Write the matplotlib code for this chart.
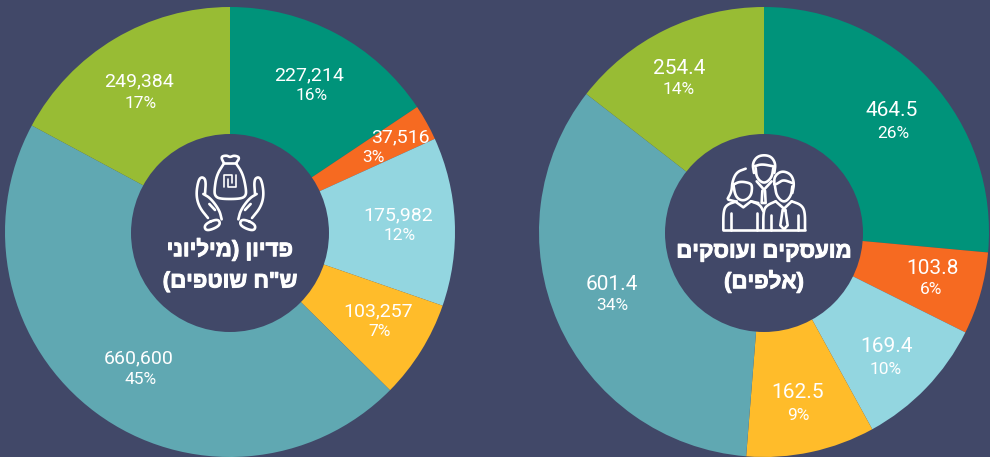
import numpy as np
import matplotlib
matplotlib.use("Agg")
import matplotlib.pyplot as plt
import matplotlib.patheffects as pe

BG = "#414868"
COLORS = ["#00937A", "#F66A21", "#93D6E0", "#FFBC2A", "#60A8B2", "#98BC34"]

revenue_values = [227214, 37516, 175982, 103257, 660600, 249384]
revenue_labels = ["227,214", "37,516", "175,982", "103,257", "660,600", "249,384"]
revenue_pcts = ["16%", "3%", "12%", "7%", "45%", "17%"]
revenue_title = ["פדיון (מיליוני", "ש\"ח שוטפים)"]

jobs_values = [464.5, 103.8, 169.4, 162.5, 601.4, 254.4]
jobs_labels = ["464.5", "103.8", "169.4", "162.5", "601.4", "254.4"]
jobs_pcts = ["26%", "6%", "10%", "9%", "34%", "14%"]
jobs_title = ["מועסקים ועוסקים", "(אלפים)"]

W, H = 990, 457
fig = plt.figure(figsize=(W / 100, H / 100), dpi=100, facecolor=BG)
ax = fig.add_axes([0, 0, 1, 1])


def rtl(s):
    swap = {"(": ")", ")": "("}
    return "".join(swap.get(c, c) for c in s[::-1])


def py(y):
    return H - y


R = 225
HOLE = 99
for cx, vals in ((230, revenue_values), (764, jobs_values)):
    ax.pie(vals, colors=COLORS, startangle=90, counterclock=False, radius=R,
           center=(cx, py(232)), frame=True)
    ax.add_patch(plt.Circle((cx, py(233)), HOLE, color=BG, zorder=3, lw=0))
ax.set_xlim(0, W)
ax.set_ylim(0, H)
ax.set_aspect("equal")
ax.axis("off")

rev_val_pos = [(309, 75), (400, 137), (398, 215), (378, 311), (139, 358), (139, 81)]
rev_pct_pos = [(312, 95), (373, 157), (400, 236), (380, 331), (141, 379), (141, 103)]
job_val_pos = [(892, 110), (932, 268), (887, 346), (798, 393), (612, 284), (679, 69)]
job_pct_pos = [(893, 133), (931, 290), (886, 369), (798, 416), (612, 306), (679, 90)]
for labs, pcts, vp, pp, fs in ((revenue_labels, revenue_pcts, rev_val_pos, rev_pct_pos, 14),
                               (jobs_labels, jobs_pcts, job_val_pos, job_pct_pos, 15)):
    for lab, pct, v, p in zip(labs, pcts, vp, pp):
        ax.text(v[0], py(v[1]), lab, color="white", fontsize=fs, family="Roboto",
                ha="center", va="center", zorder=5)
        ax.text(p[0], py(p[1]), pct, color="white", fontsize=12.5, family="Roboto",
                ha="center", va="center", zorder=5)

hebrew = dict(color="white", family="Liberation Sans", weight="bold",
              ha="center", va="center", zorder=5,
              path_effects=[pe.withStroke(linewidth=0.7, foreground="white")])
ax.text(230, py(250), rtl(revenue_title[0]), fontsize=16, **hebrew)
ax.text(230, py(282), rtl(revenue_title[1]), fontsize=16, **hebrew)
ax.text(764, py(252), rtl(jobs_title[0]), fontsize=16, **hebrew)
ax.text(764, py(282), rtl(jobs_title[1]), fontsize=16, **hebrew)


def chaikin(pts, closed=False, n=3):
    p = np.array(pts, float)
    for _ in range(n):
        if closed:
            q = np.roll(p, -1, axis=0)
            p = np.column_stack([0.75 * p + 0.25 * q, 0.25 * p + 0.75 * q]).reshape(-1, 2)
        else:
            a, b = p[:-1], p[1:]
            mid = np.column_stack([0.75 * a + 0.25 * b, 0.25 * a + 0.75 * b]).reshape(-1, 2)
            p = np.vstack([p[:1], mid, p[-1:]])
    if closed:
        p = np.vstack([p, p[:1]])
    return p


def stroke(pts, off, closed=False, smooth=True, lw=1.9):
    p = np.array(pts, float) / 3 + off
    if smooth:
        p = chaikin(p, closed)
    elif closed:
        p = np.vstack([p, p[:1]])
    ax.plot(p[:, 0], H - p[:, 1], color="white", lw=lw, zorder=6,
            solid_capstyle="round", solid_joinstyle="round")


# money bag with hands
o = np.array([120, 130])
stroke([(312, 100), (290, 135), (283, 180), (285, 198), (300, 207), (360, 207), (378, 198),
        (378, 175), (368, 130), (348, 100)], o)
stroke([(312, 100), (348, 100)], o, smooth=False)
stroke([(312, 100), (302, 80), (320, 76), (330, 82), (342, 76), (360, 82), (348, 100)], o)
stroke([(312, 172), (312, 136), (336, 136), (336, 160)], o, smooth=False, lw=1.2)
stroke([(348, 136), (348, 172), (324, 172), (324, 148)], o, smooth=False, lw=1.2)
for sx in (1, -1):
    def m(pts):
        return [(330 + sx * (x - 330), y) for x, y in pts]
    stroke(m([(264, 264), (238, 232), (228, 195), (235, 150), (246, 140), (258, 150),
              (255, 192)]), o)
    stroke(m([(250, 192), (272, 205), (298, 240), (305, 268)]), o)
    stroke(m([(268, 222), (285, 240)]), o, smooth=False)
    stroke(m([(252, 283), (295, 265), (302, 287), (258, 305)]), o, closed=True)

# three people
o = np.array([715, 148])
# middle
stroke([(117, 75), (112, 45), (130, 22), (165, 22), (182, 45), (178, 75)], o)
stroke([(118, 55), (140, 48), (175, 55)], o)
stroke([(122, 60), (125, 90), (147, 108), (170, 90), (175, 60)], o)
stroke([(125, 100), (147, 125), (170, 100)], o, smooth=False)
stroke([(142, 128), (140, 165), (152, 165), (150, 128)], o, smooth=False)
# left
stroke([(92, 62), (65, 72), (52, 100), (50, 130), (38, 152)], o)
stroke([(55, 110), (75, 100), (105, 105), (112, 115), (108, 145), (85, 160), (62, 148), (55, 110)], o)
stroke([(40, 155), (60, 160), (85, 178), (108, 160), (130, 165)], o, smooth=False)
stroke([(25, 245), (25, 190), (35, 170), (65, 160)], o)
stroke([(108, 160), (135, 170), (145, 190)], o)
stroke([(48, 195), (48, 245)], o, smooth=False)
stroke([(125, 195), (125, 245)], o, smooth=False)
# right
stroke([(178, 110), (178, 85), (200, 68), (228, 78), (238, 105), (232, 135)], o)
stroke([(180, 110), (190, 105), (205, 95), (232, 105)], o)
stroke([(180, 115), (185, 145), (207, 165), (228, 145), (232, 115)], o)
stroke([(182, 160), (207, 182), (230, 160)], o, smooth=False)
stroke([(145, 245), (145, 190), (155, 172), (182, 160)], o)
stroke([(230, 160), (258, 170), (270, 190), (270, 245)], o)
stroke([(203, 185), (196, 232), (207, 244), (218, 232), (211, 185)], o, smooth=False)
stroke([(203, 185), (211, 185)], o, smooth=False)
stroke([(168, 200), (168, 245)], o, smooth=False)
stroke([(248, 200), (248, 245)], o, smooth=False)
stroke([(25, 245), (270, 245)], o, smooth=False)

fig.savefig("out.png", dpi=100, facecolor=BG)
